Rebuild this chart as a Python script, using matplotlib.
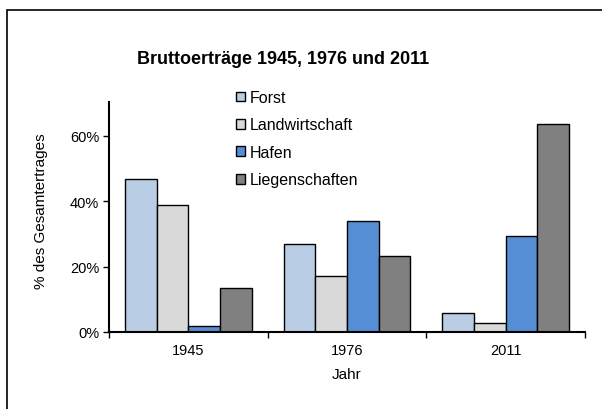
import numpy as np
import matplotlib
matplotlib.use('Agg')
import matplotlib.pyplot as plt
from matplotlib.patches import Rectangle
from matplotlib.ticker import FuncFormatter, FixedLocator

plt.rcParams['font.family'] = ['Liberation Sans', 'DejaVu Sans']

years = ['1945', '1976', '2011']
series = ['Forst', 'Landwirtschaft', 'Hafen', 'Liegenschaften']
forst = [46.7, 27.0, 5.7]
landwirtschaft = [38.9, 17.2, 2.6]
hafen = [1.8, 33.9, 29.2]
liegenschaften = [13.4, 23.1, 63.5]
colors = ['#B9CDE5', '#D9D9D9', '#558ED5', '#808080']

fig = plt.figure(figsize=(6.02, 4.10), dpi=100)
ax = fig.add_axes([109/602, 1 - 333/410, 476/602, 230/410])

# outer chart frame (only top and left edges visible in the crop)
fig.patches.append(Rectangle((7/602, -0.1), 1.1, 1 - 10.5/410 + 0.1,
                             transform=fig.transFigure, fill=False,
                             edgecolor='black', linewidth=1.2))

x = np.arange(len(years))
w = 0.2
for i, (name, vals) in enumerate(zip(series, [forst, landwirtschaft, hafen, liegenschaften])):
    ax.bar(x + (i - 1.5) * w, vals, width=w, color=colors[i], edgecolor='black',
           linewidth=1.0, label=name)

ax.set_xlim(-0.5, 2.5)
ax.set_ylim(0, 70.3)
ax.set_yticks([0, 20, 40, 60])
ax.yaxis.set_major_formatter(FuncFormatter(lambda v, p: '%d%%' % v))
ax.set_xticks(x)
ax.set_xticklabels(years)
ax.xaxis.set_minor_locator(FixedLocator([-0.5, 0.5, 1.5, 2.5]))
ax.tick_params(axis='x', which='major', length=0, pad=8, labelsize=10.5)
ax.tick_params(axis='x', which='minor', length=4, width=1, direction='out')
ax.tick_params(axis='y', length=4, width=1, direction='out', labelsize=10.5, pad=3)

for s in ['top', 'right']:
    ax.spines[s].set_visible(False)
for s in ['left', 'bottom']:
    ax.spines[s].set_linewidth(1.5)

ax.set_xlabel('Jahr', fontsize=11, labelpad=7)
ax.set_ylabel('% des Gesamtertrages', fontsize=11)
ax.yaxis.set_label_coords(-0.128, 0.53)

fig.text(283/602, 1 - 60/410, 'Bruttoerträge 1945, 1976 und 2011', ha='center',
         va='center', fontsize=13, fontweight='bold')

fig.legend(loc='upper left', bbox_to_anchor=(228/602, 1 - 83/410), frameon=False,
           fontsize=11.5, handlelength=0.55, handleheight=0.55, handletextpad=0.3,
           labelspacing=0.78, borderpad=0)

fig.savefig('out.png', dpi=100)
